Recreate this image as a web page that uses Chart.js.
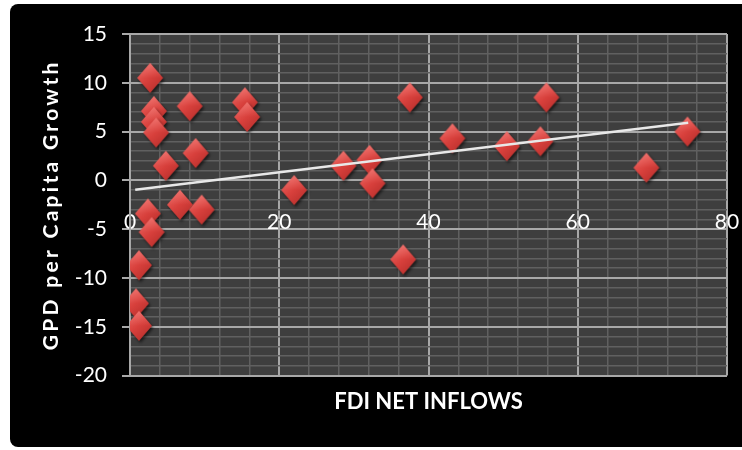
<!DOCTYPE html>
<html>
<head>
<meta charset="utf-8">
<script src="https://cdn.jsdelivr.net/npm/chart.js@4.4.1/dist/chart.umd.min.js"></script>
<style>
  html, body { margin: 0; padding: 0; background: #ffffff; }
  #wrap { position: relative; width: 742px; height: 450px; overflow: hidden; }
  #panel { position: absolute; left: 10px; top: 4px; width: 740px; height: 443px;
           background: #000000; border-radius: 8px 0 0 8px; }
  #c { position: absolute; left: 0; top: 0; }
</style>
</head>
<body>
<div id="wrap">
  <div id="panel"></div>
  <canvas id="c" width="742" height="450"></canvas>
</div>
<script>
// FDI net inflows (x) and GDP per capita growth (y), one entry per observation
const fdiInflows = [2.7, 3.2, 3.2, 3.5, 8.0, 15.4, 15.7, 4.8, 8.8, 22.0,
                    6.7, 9.6, 2.4, 2.9, 1.2, 0.8, 1.2, 37.5, 55.8, 43.2,
                    50.5, 55.0, 74.7, 69.2, 28.6, 32.1, 32.5, 36.6];
const gdpGrowth  = [10.5, 7.1, 6.0, 4.9, 7.6, 8.0, 6.5, 1.5, 2.8, -1.0,
                    -2.5, -3.0, -3.4, -5.3, -8.7, -12.6, -14.9, 8.5, 8.5, 4.3,
                    3.5, 4.0, 5.0, 1.3, 1.5, 2.1, -0.3, -8.1];

// Linear trend line end points
const trendX = [0.7, 74.8];
const trendY = [-0.95, 5.9];

// Labelled ticks on each axis
const xTickLabels = [0, 20, 40, 60, 80];
const yTickLabels = [15, 10, 5, 0, -5, -10, -15, -20];

const MAJOR = '#a8a8a8';
const MINOR = '#606060';

// Red bevelled diamond used as the point marker
function makeDiamond() {
  const w = 26, h = 30, pad = 5;
  const c = document.createElement('canvas');
  c.width = w + pad * 2; c.height = h + pad * 2;
  const g = c.getContext('2d');
  const cx = c.width / 2, cy = c.height / 2;
  const path = () => {
    g.beginPath();
    g.moveTo(cx, cy - h / 2);
    g.lineTo(cx + w / 2, cy);
    g.lineTo(cx, cy + h / 2);
    g.lineTo(cx - w / 2, cy);
    g.closePath();
  };
  g.save();
  g.shadowColor = 'rgba(0,0,0,0.6)';
  g.shadowBlur = 3; g.shadowOffsetX = 1.5; g.shadowOffsetY = 2;
  path();
  const grad = g.createLinearGradient(cx - w / 2, cy - h / 2, cx + w / 2, cy + h / 2);
  grad.addColorStop(0, '#ef6a66');
  grad.addColorStop(0.5, '#d8403c');
  grad.addColorStop(1, '#b02b28');
  g.fillStyle = grad;
  g.fill();
  g.restore();
  // soft highlight on the upper facet
  g.save();
  path(); g.clip();
  const hl = g.createLinearGradient(cx, cy - h / 2, cx, cy);
  hl.addColorStop(0, 'rgba(255,160,155,0.35)');
  hl.addColorStop(1, 'rgba(255,160,155,0)');
  g.fillStyle = hl;
  g.fillRect(0, 0, c.width, cy);
  g.restore();
  return c;
}

const plotBackground = {
  id: 'plotBackground',
  beforeDraw(chart) {
    const { ctx, chartArea: a } = chart;
    ctx.save();
    ctx.fillStyle = '#3e3e3e';
    ctx.fillRect(a.left, a.top, a.width, a.height);
    ctx.restore();
  }
};

// Widely tracked lettering for the vertical axis title
function spaceTitle(scale) {
  if (scale._tracked) return;
  const draw = scale.drawTitle;
  scale.drawTitle = function () {
    this.ctx.save();
    this.ctx.letterSpacing = '3.3px';
    draw.call(this);
    this.ctx.restore();
  };
  scale._tracked = true;
}

const points = fdiInflows.map((x, i) => ({ x, y: gdpGrowth[i] }));
const trend = trendX.map((x, i) => ({ x, y: trendY[i] }));

new Chart(document.getElementById('c'), {
  type: 'scatter',
  data: {
    datasets: [
      {
        label: 'Trend',
        data: trend,
        showLine: true,
        borderColor: '#e8e8e8',
        borderWidth: 2.5,
        pointRadius: 0,
        order: 0
      },
      {
        label: 'GDP per capita growth',
        data: points,
        pointStyle: makeDiamond(),
        pointRadius: 13,
        order: 1
      }
    ]
  },
  options: {
    responsive: false,
    animation: false,
    events: [],
    layout: { padding: { left: 30, top: 34, right: 15, bottom: 0 } },
    plugins: {
      legend: { display: false },
      tooltip: { enabled: false },
      title: {
        display: true,
        text: 'FDI NET INFLOWS',
        position: 'bottom',
        fullSize: false,
        color: '#ffffff',
        font: { family: 'Lato', size: 22, weight: 'bold' },
        padding: { top: 13, bottom: 35 }
      }
    },
    scales: {
      x: {
        type: 'linear',
        min: 0, max: 80,
        position: { y: 0 },
        border: { color: MAJOR, width: 2 },
        grid: {
          drawTicks: true,
          tickLength: 29,
          tickColor: 'rgba(0,0,0,0)',
          color: c => (c.tick && xTickLabels.includes(c.tick.value)) ? MAJOR : MINOR,
          lineWidth: c => (c.tick && xTickLabels.includes(c.tick.value)) ? 2 : 1.5
        },
        ticks: {
          stepSize: 4,
          autoSkip: false,
          maxRotation: 0,
          padding: 0,
          color: '#ffffff',
          font: { family: 'Lato', size: 21 },
          callback: v => xTickLabels.includes(v) ? String(v) : ''
        }
      },
      y: {
        type: 'linear',
        min: -20, max: 15,
        position: 'left',
        afterFit: s => { s.width = 100; spaceTitle(s); },
        border: { color: MAJOR, width: 2 },
        grid: {
          tickLength: 8,
          color: c => (c.tick && yTickLabels.includes(c.tick.value)) ? MAJOR : MINOR,
          tickColor: c => (c.tick && yTickLabels.includes(c.tick.value)) ? MAJOR : 'rgba(0,0,0,0)',
          lineWidth: c => (c.tick && yTickLabels.includes(c.tick.value)) ? 2 : 1.5
        },
        ticks: {
          stepSize: 1,
          autoSkip: false,
          padding: 15,
          color: '#ffffff',
          font: { family: 'Lato', size: 21 },
          callback: v => yTickLabels.includes(v) ? String(v) : ''
        },
        title: {
          display: true,
          text: 'GPD per Capita Growth',
          color: '#ffffff',
          font: { family: 'Lato', size: 21, weight: 'bold' },
          padding: { top: 9, bottom: 0 }
        }
      }
    }
  },
  plugins: [plotBackground]
});
</script>
</body>
</html>
